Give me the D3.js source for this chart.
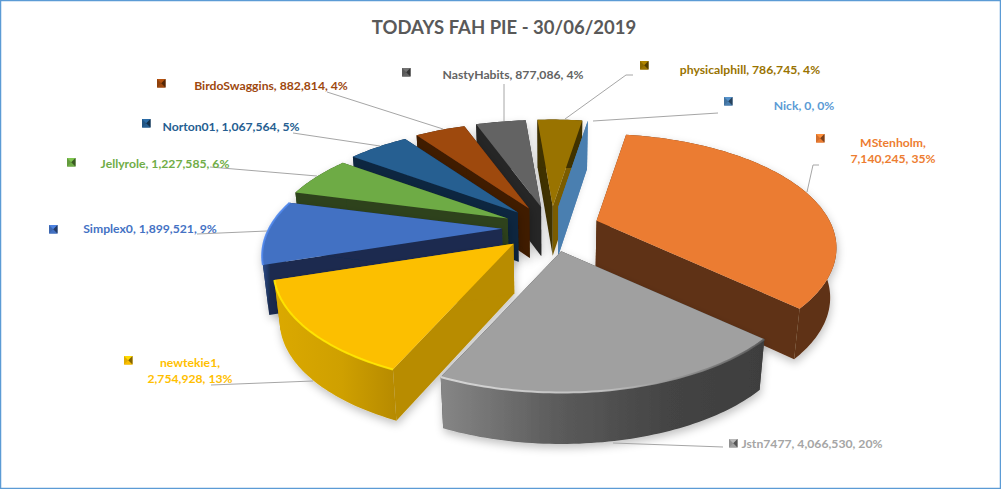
<!DOCTYPE html>
<html><head><meta charset="utf-8">
<script src="https://cdn.jsdelivr.net/npm/d3@7/dist/d3.min.js"></script>
<style>html,body{margin:0;padding:0;background:#fff}svg{display:block}</style>
</head><body><svg id="c" width="1001" height="489"></svg>
<script>
const categories=["MStenholm","Jstn7477","newtekie1","Simplex0","Jellyrole","Norton01","BirdoSwaggins","NastyHabits","physicalphill","Nick"];
const values=[7140245,4066530,2754928,1899521,1227585,1067564,882814,877086,786745,0];
const percents=["35%","20%","13%","9%","6%","5%","4%","4%","4%","0%"];
const topColors=["#EB7C31","#A0A0A0","#FCBF00","#4371C3","#6EAB45","#255E91","#9E480E","#636363","#997300","#4A7FB0"];
const wallColors=["#5E3114","#404040","#B88C00","#1A2C50","#2D431C","#0E2841","#3F1D06","#272727","#3F3000","#4A7FB0"];
const labelColors=["#ED7D31","#A5A5A5","#FFC000","#4472C4","#70AD47","#255E91","#9E480E","#636363","#997300","#5B9BD5"];
const titleText="TODAYS FAH PIE - 30/06/2019";
const fmt=d3.format(",");

// label placement: [anchor x, first baseline y, wrap?, key x, key y]
const labelLayout=[
 {x:893,y:147,wrap:true,kx:816,ky:134,leader:[[819,165],[813,165],[807,192]]},
 {x:812,y:448,wrap:false,kx:729,ky:439,leader:[[723,447],[613,443]]},
 {x:190,y:367,wrap:true,kx:124,ky:356,leader:[[211,385],[313,381]]},
 {x:150,y:233,wrap:false,kx:49,ky:225,leader:[[197,234],[267,231]]},
 {x:165,y:168,wrap:false,kx:67,ky:158,leader:[[210,167],[317,176]]},
 {x:231,y:131,wrap:false,kx:142,ky:119,leader:[[293,133],[380,146]]},
 {x:271,y:90,wrap:false,kx:157,ky:79,leader:[[327,92],[443,129]]},
 {x:513,y:79,wrap:false,kx:402,ky:68,leader:[[504,84],[504,121]]},
 {x:750,y:74,wrap:false,kx:640,ky:61,leader:[[633,75],[626,75],[565,119]]},
 {x:804,y:110,wrap:false,kx:724,ky:97,leader:[[718,113],[593,121]]}
];

// projection of the tilted pie
const cx=551, cy=228, eyeDist=4.2, explode=0.21, firstAngle=9*Math.PI/180;
const sx=d3.scaleLinear().domain([-1,1]).range([-233,233]);
const sy=d3.scaleLinear().domain([-1,1]).range([-107.6,107.6]);
const proj=(X,Y)=>{const f=eyeDist/(eyeDist-Y);return [sx(X)*f,sy(Y)*f];};
const polar=(a,r=1)=>proj(r*Math.sin(a),-r*Math.cos(a));
const taper=0.978;
const down=p=>[cx+(p[0]-cx)*taper, p[1]+49.5+(p[1]-cy)*0.012];

const svg=d3.select("#c");
const defs=svg.append("defs");
const f=defs.append("filter").attr("id","sh").attr("x","-20%").attr("y","-20%").attr("width","140%").attr("height","140%");
f.append("feDropShadow").attr("dx",1).attr("dy",4).attr("stdDeviation",4.5).attr("flood-color","#000").attr("flood-opacity",0.24);

svg.append("rect").attr("x",0.5).attr("y",0.5).attr("width",1000).attr("height",488)
  .attr("fill","#fff").attr("stroke","#5B9BD5").attr("stroke-width",1.5);

svg.append("text").attr("x",504).attr("y",34).attr("text-anchor","middle")
  .attr("font-family","Lato, Carlito, sans-serif").attr("font-weight",700).attr("font-size",18.5)
  .attr("fill","#595959").text(titleText);

const arcs=d3.pie().value(d=>d).sort(null).startAngle(firstAngle).endAngle(firstAngle+2*Math.PI)(values);
const slices=arcs.map((a,i)=>{
  const mid=(a.startAngle+a.endAngle)/2;
  const e=polar(mid,explode);
  const apex=[cx+e[0],cy+e[1]];
  const pt=t=>{const p=polar(t);return [apex[0]+p[0],apex[1]+p[1]];};
  const n=Math.max(2,Math.ceil((a.endAngle-a.startAngle)/0.02));
  const rim=d3.range(n+1).map(k=>pt(a.startAngle+(a.endAngle-a.startAngle)*k/n));
  return {i,a,mid,apex,rim,depth:-Math.cos(mid)};
});
slices.sort((p,q)=>p.depth-q.depth);

const line=d3.line().curve(d3.curveLinearClosed);
const open=d3.line();
const rimFills={
  1:[["0%","#868686"],["35%","#5C5C5C"],["70%","#444444"],["100%","#3E3E3E"]],
  2:[["0%","#DBA900"],["55%","#CFA000"],["100%","#B68A00"]],
  3:[["0%","#2E4F8C"],["25%","#1A2C50"],["100%","#1A2C50"]]
};
Object.entries(rimFills).forEach(([k,stops])=>{
  const g=defs.append("linearGradient").attr("id","rim"+k);
  stops.forEach(s=>g.append("stop").attr("offset",s[0]).attr("stop-color",s[1]));
});
const bev=defs.append("linearGradient").attr("id","bevGray");
[["0%","#DDDDDD"],["50%","#C4C4C4"],["100%","#5A5A5A"]].forEach(s=>bev.append("stop").attr("offset",s[0]).attr("stop-color",s[1]));

const gPie=svg.append("g");
slices.forEach(s=>{
  const g=gPie.append("g").attr("filter",s.i===9?null:"url(#sh)");
  const wall=wallColors[s.i];
  const first=s.rim[0], last=s.rim[s.rim.length-1];
  const quad=p=>line([s.apex,p,down(p),down(s.apex)]);
  g.append("path").attr("d",quad(first)).attr("fill",wall);
  const endFill=s.i===8?"#7A5C00":wall;
  g.append("path").attr("d",quad(last)).attr("fill",endFill);
  if(s.i!==9){
    const side=s.rim.concat(s.rim.map(down).reverse());
    g.append("path").attr("d",line(side)).attr("fill",rimFills[s.i]?`url(#rim${s.i})`:wall);
    g.append("path").attr("d",line([s.apex].concat(s.rim))).attr("fill",topColors[s.i]);
    const bright=Math.sin(s.mid)<0.5;
    const base=d3.color(topColors[s.i]);
    g.append("path").attr("d",open(s.rim)).attr("fill","none")
      .attr("stroke",s.i===1?"url(#bevGray)":bright?base.brighter(0.55):base.darker(0.8))
      .attr("stroke-width",2).attr("stroke-opacity",s.depth<-0.2?0:0.9);
  }
});

const leader=d3.line();
labelLayout.forEach((L,i)=>{
  svg.append("path").attr("d",leader(L.leader)).attr("fill","none").attr("stroke","#A6A6A6").attr("stroke-width",1);
});

const key=svg.append("g");
labelLayout.forEach((L,i)=>{
  const c=topColors[i], g=key.append("g").attr("transform",`translate(${L.kx},${L.ky})`);
  const sz=8.5;
  g.append("rect").attr("width",sz).attr("height",sz).attr("fill",d3.color(c).darker(0.3));
  g.append("path").attr("d",line([[0,0],[sz,0],[sz*0.5,sz*0.5]])).attr("fill",d3.color(c).brighter(0.4));
  g.append("path").attr("d",line([[0,sz],[sz,sz],[sz*0.5,sz*0.5]])).attr("fill",d3.color(c));
  g.append("path").attr("d",line([[sz,0],[sz,sz],[sz*0.5,sz*0.5]])).attr("fill",d3.color(c).darker(1.8));
});

const lab=svg.append("g").attr("font-family","Lato, Carlito, sans-serif").attr("font-weight",700).attr("font-size",12.2).attr("text-anchor","middle");
labelLayout.forEach((L,i)=>{
  const tail=fmt(values[i])+", "+percents[i];
  const head=categories[i]+",";
  const t=lab.append("text").attr("x",L.x).attr("y",L.y).attr("fill",labelColors[i]);
  if(L.wrap){
    t.append("tspan").attr("x",L.x).text(head);
    t.append("tspan").attr("x",L.x).attr("dy",16).text(tail);
  } else t.text(head+" "+tail);
});
</script></body></html>
